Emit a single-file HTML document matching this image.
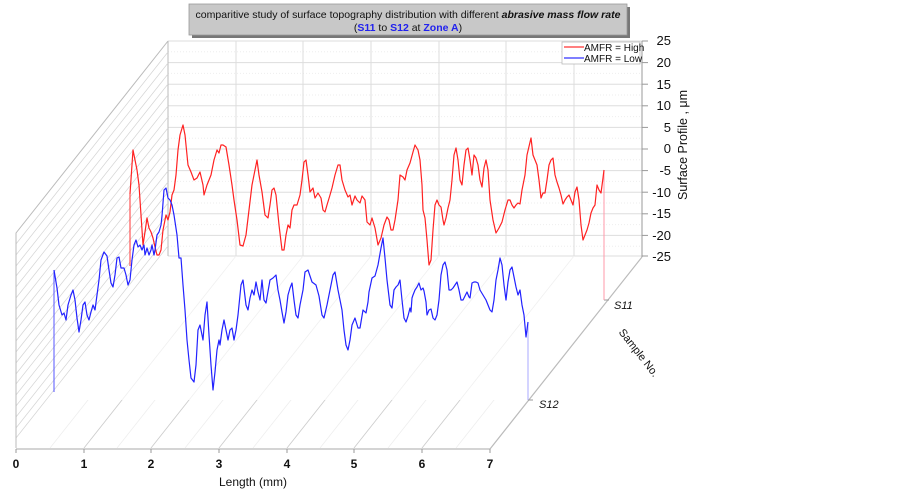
<!DOCTYPE html>
<html><head><meta charset="utf-8"><style>
html,body{margin:0;padding:0;background:#fff}
svg{display:block;font-family:"Liberation Sans",Arial,sans-serif}
</style></head><body>
<svg width="903" height="492" viewBox="0 0 903 492" xmlns="http://www.w3.org/2000/svg">
<defs>
<clipPath id="lw"><polygon points="16,233 168,41 168,256 16,448"/></clipPath>
<clipPath id="fl"><polygon points="16,448 168,256 642,256 490,448"/></clipPath>
<clipPath id="ff"><polygon points="16,448 54,400 528,400 490,448"/></clipPath>
</defs>
<g stroke="#eee" stroke-width="1" stroke-dasharray="1,2">
<line x1="168" y1="51.8" x2="642" y2="51.8"/><line x1="168" y1="73.4" x2="642" y2="73.4"/><line x1="168" y1="95" x2="642" y2="95"/><line x1="168" y1="116.6" x2="642" y2="116.6"/><line x1="168" y1="138.2" x2="642" y2="138.2"/><line x1="168" y1="159.8" x2="642" y2="159.8"/><line x1="168" y1="181.4" x2="642" y2="181.4"/><line x1="168" y1="203" x2="642" y2="203"/><line x1="168" y1="224.6" x2="642" y2="224.6"/><line x1="168" y1="246.2" x2="642" y2="246.2"/>
</g>
<g stroke="#ddd" stroke-width="1">
<line x1="168" y1="41" x2="642" y2="41"/><line x1="168" y1="62.6" x2="642" y2="62.6"/><line x1="168" y1="84.2" x2="642" y2="84.2"/><line x1="168" y1="105.8" x2="642" y2="105.8"/><line x1="168" y1="127.4" x2="642" y2="127.4"/><line x1="168" y1="149" x2="642" y2="149"/><line x1="168" y1="170.6" x2="642" y2="170.6"/><line x1="168" y1="192.2" x2="642" y2="192.2"/><line x1="168" y1="213.8" x2="642" y2="213.8"/><line x1="168" y1="235.4" x2="642" y2="235.4"/><line x1="168" y1="256" x2="642" y2="256"/>
<line x1="168" y1="41" x2="168" y2="256" stroke="#bbb"/><line x1="236" y1="41" x2="236" y2="256"/><line x1="303" y1="41" x2="303" y2="256"/><line x1="371" y1="41" x2="371" y2="256"/><line x1="439" y1="41" x2="439" y2="256"/><line x1="506" y1="41" x2="506" y2="256"/><line x1="574" y1="41" x2="574" y2="256"/><line x1="642" y1="41" x2="642" y2="256"/>
</g>
<g clip-path="url(#lw)" stroke="#d4d4d4" stroke-width="0.7">
<line x1="16" y1="233" x2="168" y2="41"/><line x1="16" y1="244" x2="168" y2="52"/><line x1="16" y1="255" x2="168" y2="63"/><line x1="16" y1="266" x2="168" y2="74"/><line x1="16" y1="276" x2="168" y2="84"/><line x1="16" y1="287" x2="168" y2="95"/><line x1="16" y1="298" x2="168" y2="106"/><line x1="16" y1="309" x2="168" y2="117"/><line x1="16" y1="320" x2="168" y2="128"/><line x1="16" y1="330" x2="168" y2="138"/><line x1="16" y1="341" x2="168" y2="149"/><line x1="16" y1="352" x2="168" y2="160"/><line x1="16" y1="363" x2="168" y2="171"/><line x1="16" y1="374" x2="168" y2="182"/><line x1="16" y1="384" x2="168" y2="192"/><line x1="16" y1="395" x2="168" y2="203"/><line x1="16" y1="406" x2="168" y2="214"/><line x1="16" y1="417" x2="168" y2="225"/><line x1="16" y1="428" x2="168" y2="236"/><line x1="16" y1="438" x2="168" y2="246"/>
</g>
<g stroke="#bbb" stroke-width="1" fill="none">
<polyline points="16,448 16,233 168,41"/>
</g>
<g clip-path="url(#fl)" stroke="#f0f0f0" stroke-width="0.8">
<line x1="84" y1="448" x2="236" y2="256"/><line x1="151" y1="448" x2="303" y2="256"/><line x1="219" y1="448" x2="371" y2="256"/><line x1="287" y1="448" x2="439" y2="256"/><line x1="354" y1="448" x2="506" y2="256"/><line x1="422" y1="448" x2="574" y2="256"/>
</g>
<g clip-path="url(#ff)" stroke="#ccc" stroke-width="0.8">
<line x1="84" y1="448" x2="236" y2="256"/><line x1="151" y1="448" x2="303" y2="256"/><line x1="219" y1="448" x2="371" y2="256"/><line x1="287" y1="448" x2="439" y2="256"/><line x1="354" y1="448" x2="506" y2="256"/><line x1="422" y1="448" x2="574" y2="256"/>
</g>
<g clip-path="url(#ff)" stroke="#eee" stroke-width="0.8">
<line x1="50" y1="448" x2="202" y2="256"/><line x1="117" y1="448" x2="269" y2="256"/><line x1="185" y1="448" x2="337" y2="256"/><line x1="253" y1="448" x2="405" y2="256"/><line x1="320" y1="448" x2="472" y2="256"/><line x1="388" y1="448" x2="540" y2="256"/><line x1="456" y1="448" x2="608" y2="256"/>
</g>
<g stroke="#bbb" stroke-width="1.2" fill="none">
<line x1="16" y1="449" x2="490" y2="449"/>
<line x1="490" y1="449" x2="642" y2="257"/>
</g>
<g stroke="#999" stroke-width="1">
<line x1="16" y1="449" x2="16" y2="453"/><line x1="84" y1="449" x2="84" y2="453"/><line x1="151" y1="449" x2="151" y2="453"/><line x1="219" y1="449" x2="219" y2="453"/><line x1="287" y1="449" x2="287" y2="453"/><line x1="354" y1="449" x2="354" y2="453"/><line x1="422" y1="449" x2="422" y2="453"/><line x1="490" y1="449" x2="490" y2="453"/>
<line x1="642" y1="41" x2="642" y2="257"/>
<line x1="642" y1="41" x2="648" y2="41"/><line x1="642" y1="62.6" x2="648" y2="62.6"/><line x1="642" y1="84.2" x2="648" y2="84.2"/><line x1="642" y1="105.8" x2="648" y2="105.8"/><line x1="642" y1="127.4" x2="648" y2="127.4"/><line x1="642" y1="149" x2="648" y2="149"/><line x1="642" y1="170.6" x2="648" y2="170.6"/><line x1="642" y1="192.2" x2="648" y2="192.2"/><line x1="642" y1="213.8" x2="648" y2="213.8"/><line x1="642" y1="235.4" x2="648" y2="235.4"/><line x1="642" y1="256" x2="648" y2="256"/>
<line x1="604" y1="300" x2="609" y2="300"/><line x1="528" y1="400" x2="533" y2="400"/>
</g>
<line x1="130" y1="194" x2="130" y2="266" stroke="#f33" stroke-width="1"/>
<line x1="604" y1="170" x2="604" y2="300" stroke="#f9a" stroke-width="1"/>
<polyline fill="none" stroke="#f22" stroke-width="1.2" stroke-linejoin="round" points="130,194 133,150 135,160 137,170 139,185 141,215 143,245 145,232 147,218 149,228 151,232 153,238 155,247 157,255 159,255 161,250 163,230 166,215 168,220 170,212 172,195 174,190 176,175 178,150 180,135 183,125 185,135 188,165 191,172 194,180 197,178 200,172 203,185 204,195 207,185 211,175 214,160 217,150 219,153 221,145 223,145 226,147 229,165 232,185 234,200 237,220 240,245 243,246 246,235 249,210 252,185 257,160 259,175 262,192 265,215 268,218 270,205 272,190 274,188 276,195 279,225 282,250 284,250 286,235 288,225 290,228 292,210 294,205 297,205 300,195 302,180 304,162 306,160 308,175 310,192 313,188 315,198 318,193 321,198 323,210 325,212 327,205 330,195 332,188 335,175 338,165 340,165 342,180 345,190 348,197 350,195 352,205 355,196 357,200 360,203 362,196 365,200 367,222 370,225 372,218 375,228 378,245 381,238 384,225 387,217 389,220 391,230 393,230 395,220 398,200 400,175 403,177 405,180 407,170 410,163 413,152 415,145 418,150 420,160 422,185 423,210 425,218 427,240 429,265 431,260 433,230 435,205 437,200 439,205 441,207 443,220 444,225 446,218 448,208 450,200 452,180 454,155 456,148 458,160 460,180 462,185 464,165 466,150 468,148 470,160 472,175 474,155 476,158 478,165 480,180 482,187 484,168 486,160 488,170 490,200 493,220 496,233 499,228 502,222 505,210 508,200 510,200 512,205 514,208 516,205 518,203 520,204 522,190 525,175 527,155 531,138 533,155 537,165 539,180 541,198 543,193 545,193 547,180 549,165 551,160 553,158 555,175 557,182 559,188 561,195 563,204 565,200 567,197 569,195 571,200 573,205 575,192 577,187 579,200 581,225 583,240 585,235 587,230 589,223 591,213 593,208 595,205 597,185 599,190 601,193 603,178 604,170"/>
<line x1="54" y1="270" x2="54" y2="392" stroke="#55f" stroke-width="1"/>
<line x1="528" y1="322" x2="528" y2="400" stroke="#aaf" stroke-width="1"/>
<polyline fill="none" stroke="#22f" stroke-width="1.2" stroke-linejoin="round" points="54,270 57,288 59,305 62,315 64,313 66,320 68,305 71,295 73,290 75,300 77,318 79,332 81,320 83,305 85,302 87,315 89,320 91,312 93,305 95,310 97,295 99,280 101,260 104,252 107,256 109,270 111,283 113,287 115,275 117,258 119,257 121,268 124,268 126,275 128,285 130,280 132,260 134,245 136,240 138,247 140,245 142,250 144,245 145,255 147,248 149,255 151,250 152,245 154,255 155,250 157,235 159,232 161,225 162,216 164,190 166,188 168,198 170,200 172,205 174,215 177,235 179,258 181,258 183,285 185,310 187,340 189,360 191,378 194,382 196,365 198,330 200,325 202,335 203,340 205,315 207,302 209,335 211,365 213,390 215,372 217,350 219,340 220,345 222,330 224,320 226,330 228,340 230,330 232,328 234,340 236,330 238,315 241,285 243,280 246,305 248,310 250,298 252,290 254,295 256,282 258,292 260,300 262,280 264,300 266,303 270,280 273,278 276,275 278,290 280,300 282,312 284,323 286,312 288,295 290,288 292,283 294,300 296,315 298,318 300,305 303,290 305,272 308,270 312,282 316,285 319,296 322,315 324,318 327,305 330,290 333,275 335,272 338,290 342,310 344,330 346,345 348,350 350,340 352,325 355,318 358,328 360,328 363,310 366,313 368,302 369,292 372,278 375,276 378,265 381,248 383,238 385,258 387,280 390,305 392,308 394,290 396,287 398,285 400,280 402,300 404,318 406,322 408,316 410,308 411,312 412,298 413,295 415,290 417,287 419,283 421,290 423,288 424,291 426,302 427,315 429,310 431,309 433,318 435,320 437,315 439,300 441,275 443,265 445,262 447,270 449,290 451,290 453,288 455,285 457,282 459,290 461,300 463,300 465,296 467,292 469,297 470,298 472,283 474,282 476,282 478,283 480,290 483,295 486,300 488,305 490,310 492,312 494,300 496,280 498,270 500,258 502,265 504,285 506,300 508,282 510,270 512,267 514,277 516,287 518,295 520,290 522,305 524,315 526,337 528,322"/>
<g font-size="13" fill="#111" text-anchor="end">
<text x="671" y="45">25</text><text x="671" y="67">20</text><text x="671" y="89">15</text><text x="671" y="110">10</text><text x="671" y="132">5</text><text x="671" y="153">0</text><text x="671" y="175">-5</text><text x="671" y="197">-10</text><text x="671" y="218">-15</text><text x="671" y="240">-20</text><text x="671" y="261">-25</text>
</g>
<text transform="translate(687,145) rotate(-90)" font-size="12.5" text-anchor="middle" fill="#111">Surface Profile , μm</text>
<g font-size="12" font-weight="bold" fill="#111" text-anchor="middle">
<text x="16" y="468">0</text><text x="84" y="468">1</text><text x="151" y="468">2</text><text x="219" y="468">3</text><text x="287" y="468">4</text><text x="354" y="468">5</text><text x="422" y="468">6</text><text x="490" y="468">7</text>
</g>
<text x="253" y="486" font-size="12" text-anchor="middle" fill="#111">Length (mm)</text>
<text x="614" y="309" font-size="11" font-style="italic" fill="#111">S11</text>
<text x="539" y="408" font-size="11" font-style="italic" fill="#111">S12</text>
<text transform="translate(636,355) rotate(52)" font-size="11" text-anchor="middle" fill="#111">Sample No.</text>
<rect x="192" y="7" width="438" height="31" fill="#777"/>
<rect x="189" y="4" width="438" height="31" fill="#c8c8c8" stroke="#999" stroke-width="0.8"/>
<text x="408" y="18" font-size="10.5" text-anchor="middle" fill="#111" textLength="425" lengthAdjust="spacingAndGlyphs">comparitive study of surface topography distribution with different <tspan font-weight="bold" font-style="italic">abrasive mass flow rate</tspan></text>
<text x="408" y="31" font-size="10.5" text-anchor="middle" fill="#111">(<tspan fill="#22e" font-weight="bold">S11</tspan> to <tspan fill="#22e" font-weight="bold">S12</tspan> at <tspan fill="#22e" font-weight="bold">Zone A</tspan>)</text>
<rect x="562" y="42" width="78" height="22" fill="#fff" stroke="#bbb" stroke-width="0.8"/>
<line x1="564" y1="47" x2="584" y2="47" stroke="#f33" stroke-width="1.2"/>
<line x1="564" y1="58" x2="584" y2="58" stroke="#33f" stroke-width="1.2"/>
<text x="584" y="51" font-size="10" fill="#111">AMFR = High</text>
<text x="584" y="62" font-size="10" fill="#111">AMFR = Low</text>
</svg>
</body></html>
